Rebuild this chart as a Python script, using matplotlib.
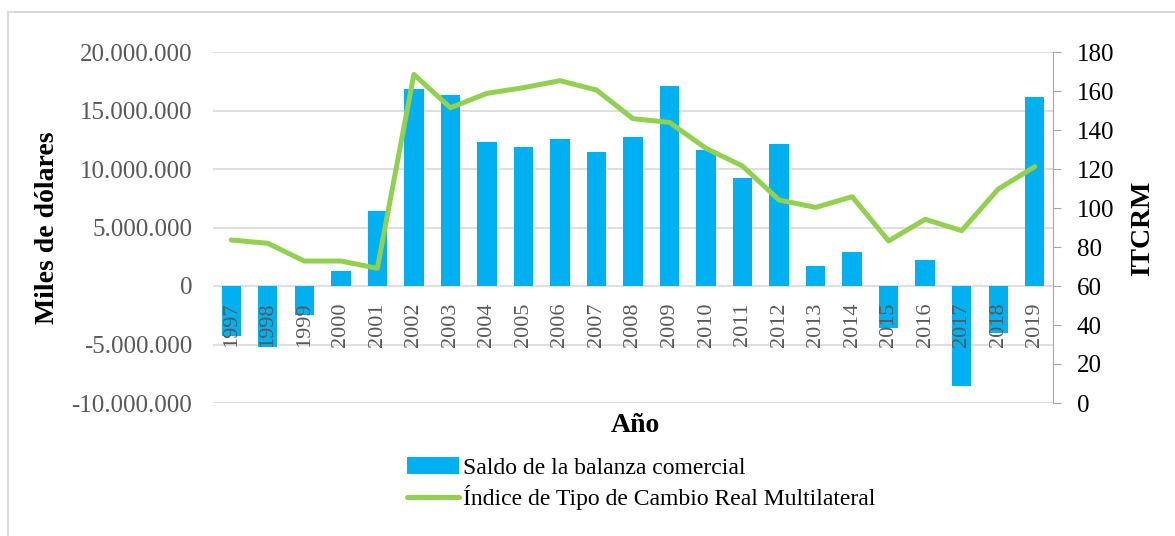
import matplotlib
matplotlib.use("Agg")
import matplotlib.pyplot as plt
from matplotlib.patches import Rectangle
from matplotlib.ticker import FuncFormatter, MultipleLocator

plt.rcParams['font.family'] = ['Liberation Serif', 'DejaVu Serif']

years = ['1997', '1998', '1999', '2000', '2001', '2002', '2003', '2004', '2005', '2006',
         '2007', '2008', '2009', '2010', '2011', '2012', '2013', '2014', '2015', '2016',
         '2017', '2018', '2019']
saldo = [-4300000, -5200000, -2500000, 1280000, 6440000, 16870000, 16300000, 12340000,
         11900000, 12560000, 11480000, 12740000, 17070000, 11600000, 9230000, 12160000,
         1710000, 2880000, -3620000, 2220000, -8550000, -4000000, 16150000]
itcrm = [83.6, 81.9, 72.8, 72.8, 69.1, 168.5, 151.4, 158.8, 161.7, 165.3, 160.5, 145.8,
         143.9, 130.6, 121.5, 104.1, 100.3, 105.8, 83.1, 94.2, 88.4, 109.7, 121.2]

W, H = 1175, 536
fig = plt.figure(figsize=(W / 100, H / 100), dpi=100)

# outer chart border
fig.add_artist(Rectangle((8 / W, -0.05), 1.2, 1 - 12 / H + 0.05, transform=fig.transFigure,
                         fill=False, edgecolor='#D9D9D9', linewidth=1.5))

ax = fig.add_axes([213 / W, 133 / H, 840 / W, 351 / H])
x = list(range(len(years)))
ax.bar(x, saldo, width=0.53, color='#00B0F0', zorder=2, label='Saldo de la balanza comercial')
ax.set_xlim(-0.5, len(years) - 0.5)
ax.set_ylim(-10000000, 20000000)
ax.yaxis.set_major_locator(MultipleLocator(5000000))
ax.yaxis.set_major_formatter(FuncFormatter(lambda v, p: f"{int(v):,}".replace(',', '.')))
ax.grid(axis='y', color='#D9D9D9', linewidth=1.2, zorder=0)
ax.set_axisbelow(True)
for s in ['top', 'right', 'left', 'bottom']:
    ax.spines[s].set_visible(False)
ax.set_xticks([])
ax.tick_params(axis='y', length=0, pad=15, labelsize=18, labelcolor='#595959')

# category labels sitting on the zero line, drawn above the bars
for xi, yr in zip(x, years):
    ax.annotate(yr, xy=(xi, 0), xytext=(0, -12), textcoords='offset points',
                rotation=90, ha='center', va='top', fontsize=16, color='#595959', zorder=5)

ax2 = ax.twinx()
ax2.plot(x, itcrm, color='#92D050', linewidth=3.6, solid_capstyle='round',
         label='Índice de Tipo de Cambio Real Multilateral')
ax2.set_ylim(0, 180)
ax2.yaxis.set_major_locator(MultipleLocator(20))
for s in ['top', 'left', 'bottom']:
    ax2.spines[s].set_visible(False)
ax2.spines['right'].set_color('#A6A6A6')
ax2.tick_params(axis='y', length=6, color='#A6A6A6', pad=11, labelsize=18, labelcolor='black')

fig.text(48 / W, 1 - 228 / H, 'Miles de dólares', rotation=90, ha='center', va='center',
         fontsize=20, fontweight='bold')
fig.text(1143 / W, 1 - 228 / H, 'ITCRM', rotation=90, ha='center', va='center',
         fontsize=20, fontweight='bold')
fig.text(635 / W, 1 - 426 / H, 'Año', ha='center', va='center', fontsize=20, fontweight='bold')

h1, l1 = ax.get_legend_handles_labels()
h2, l2 = ax2.get_legend_handles_labels()
fig.legend(h1 + h2, l1 + l2, loc='upper left', bbox_to_anchor=(398 / W, 1 - 448 / H),
           frameon=False, fontsize=17, handlelength=2.2, handletextpad=0.15,
           labelspacing=0.25, borderaxespad=0)

fig.savefig('out.png', dpi=100)
